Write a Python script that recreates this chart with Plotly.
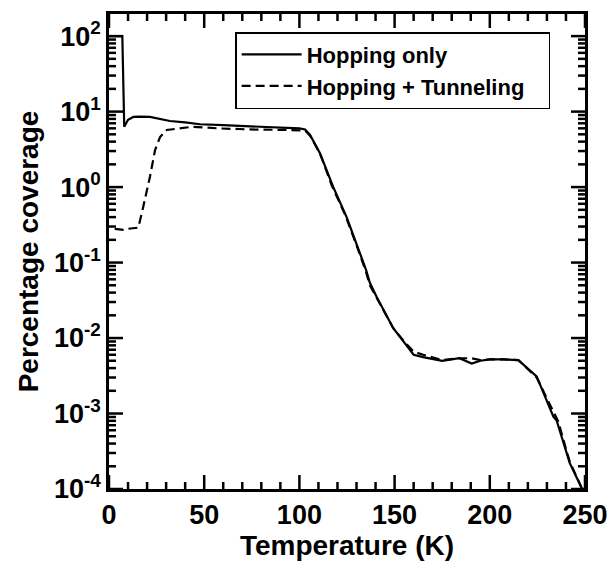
import plotly.graph_objects as go

# Hopping only (solid)
temp_hop = [0, 7.0, 8.0, 10, 12.8, 16, 21.5, 28, 32, 40, 47.8, 60, 74, 88, 100, 103,
            105.6, 110.8, 117.8, 124.8, 130, 135, 137, 140.6, 149.3, 155, 160, 165,
            175, 184, 190.5, 195, 200, 207, 215, 224.6, 230, 233.4, 235.1, 240, 242, 248.5]
cov_hop = [100, 100, 6.3, 7.8, 8.5, 8.6, 8.5, 7.9, 7.5, 7.2, 6.8, 6.6, 6.4, 6.2, 6.0, 5.8,
           4.9, 2.8, 1.0, 0.40, 0.18, 0.080, 0.054, 0.035, 0.0135, 0.0089, 0.0060, 0.0056,
           0.0050, 0.0054, 0.0046, 0.0050, 0.0052, 0.0052, 0.0051, 0.0031, 0.0015, 0.00091,
           0.00081, 0.00032, 0.00022, 0.0001]

# Hopping + Tunneling (dashed)
temp_tun = [3, 8, 10, 15.4, 18, 21.5, 24.2, 26.8, 30.3, 35, 44, 57, 74, 95, 100, 103,
            105.6, 110.8, 117, 124, 130, 135, 137, 140.6, 149.3, 155, 160, 165, 175, 184,
            190.5, 195, 200, 207, 215, 224.6, 230, 234, 236, 240, 242, 248.5]
cov_tun = [0.28, 0.27, 0.28, 0.29, 0.55, 1.37, 3.1, 4.6, 5.7, 5.9, 6.3, 6.0, 5.8, 5.7, 5.7, 5.6,
           4.8, 2.8, 1.05, 0.43, 0.17, 0.075, 0.050, 0.034, 0.0135, 0.0090, 0.0066, 0.0060,
           0.0051, 0.0054, 0.0054, 0.0051, 0.0052, 0.0052, 0.0051, 0.0030, 0.0016, 0.00098,
           0.00078, 0.00034, 0.00023, 0.0001]

x_ticks = [0, 50, 100, 150, 200, 250]
x_minor_ticks = [t for t in range(0, 251, 10) if t % 50 != 0]
y_exps = [-4, -3, -2, -1, 0, 1, 2]
y_tick_text = ["10<sup>%d</sup>" % e for e in y_exps]
y_minor_digits = [2, 3, 4, 5, 6, 7, 8, 9]

FONT = "Liberation Sans, Arial, sans-serif"
X_RANGE = [0, 250]
Y_RANGE = [-4, 2.293]

W, H = 613, 561
M_L, M_R, M_T, M_B = 109, 28, 14, 72
MAJOR_LEN, MINOR_LEN = 14, 7  # tick lengths in pixels

y_major = [10.0 ** e for e in y_exps]
y_minor = [d * 10.0 ** e for e in y_exps for d in y_minor_digits
           if d * 10.0 ** e < 10.0 ** Y_RANGE[1]]

# axis scales (units per pixel) used to turn pixel tick lengths into axis units
x_per_px = (X_RANGE[1] - X_RANGE[0]) / (W - M_L - M_R)
dec_per_px = (Y_RANGE[1] - Y_RANGE[0]) / (H - M_T - M_B)

fig = go.Figure()
fig.add_trace(go.Scatter(x=temp_hop, y=cov_hop, mode="lines", name="Hopping only",
                         line=dict(color="black", width=2.2)))
fig.add_trace(go.Scatter(x=temp_tun, y=cov_tun, mode="lines",
                         name="Hopping + Tunneling\u00a0\u00a0\u00a0",
                         line=dict(color="black", width=2.2, dash="9px,5px")))

# inward tick marks on all four sides of the frame
tx, ty = [], []
for vals, length in ((x_ticks, MAJOR_LEN), (x_minor_ticks, MINOR_LEN)):
    d = length * dec_per_px
    for v in vals:
        tx += [v, v, None, v, v, None]
        ty += [10.0 ** Y_RANGE[0], 10.0 ** (Y_RANGE[0] + d), None,
               10.0 ** Y_RANGE[1], 10.0 ** (Y_RANGE[1] - d), None]
for vals, length in ((y_major, MAJOR_LEN), (y_minor, MINOR_LEN)):
    d = length * x_per_px
    for v in vals:
        tx += [X_RANGE[0], X_RANGE[0] + d, None, X_RANGE[1], X_RANGE[1] - d, None]
        ty += [v, v, None, v, v, None]
fig.add_trace(go.Scatter(x=tx, y=ty, mode="lines", showlegend=False, hoverinfo="skip",
                         connectgaps=False, line=dict(color="black", width=2.5)))

label_font = dict(family=FONT, size=27, color="black", weight="bold")
title_font = dict(family=FONT, size=28, color="black", weight="bold")
common = dict(ticks="", mirror=True, showline=True, linecolor="black", linewidth=2.5,
              showgrid=False, zeroline=False, tickfont=label_font, automargin=False)

fig.update_layout(
    width=W, height=H,
    margin=dict(l=M_L, r=M_R, t=M_T, b=M_B),
    paper_bgcolor="white", plot_bgcolor="white",
    showlegend=True,
    xaxis=dict(range=X_RANGE, tickmode="array", tickvals=x_ticks,
               title=dict(text="Temperature (K)", standoff=4, font=title_font),
               **common),
    yaxis=dict(type="log", range=Y_RANGE, tickmode="array", tickvals=y_major,
               ticktext=y_tick_text,
               title=dict(text="Percentage coverage", standoff=8, font=title_font),
               **common),
    legend=dict(x=0.265, y=0.962, xanchor="left", yanchor="top",
                bordercolor="black", borderwidth=1.5, bgcolor="white",
                font=dict(family=FONT, size=22, color="black", weight="bold"),
                itemwidth=60),
)

fig.write_html("out.html")
